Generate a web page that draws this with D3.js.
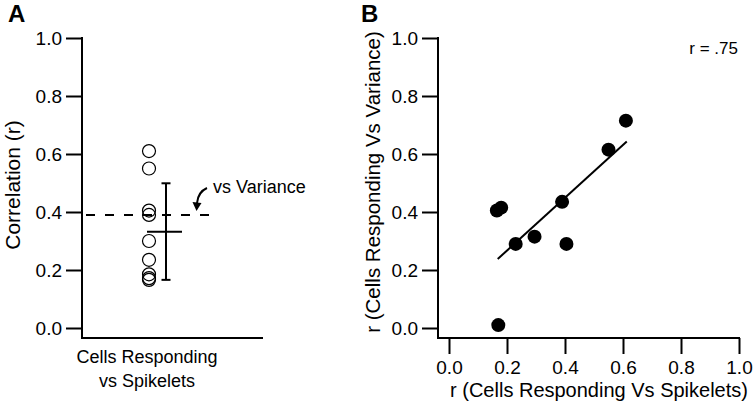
<!DOCTYPE html>
<html>
<head>
<meta charset="utf-8">
<script src="https://cdn.jsdelivr.net/npm/d3@7"></script>
<style>
  html, body { margin: 0; padding: 0; background: #fff; }
  svg { display: block; }
  text { font-family: "Liberation Sans", Arial, sans-serif; fill: #000; }
</style>
</head>
<body>
<svg id="chart" width="756" height="406"></svg>
<script>
// ---- Data ----
const tickValues = [0, 0.2, 0.4, 0.6, 0.8, 1.0];
const tickLabels = ["0.0", "0.2", "0.4", "0.6", "0.8", "1.0"];

// Panel A: correlation of cells responding vs spikelets (one per experiment)
const spikeletR = [0.61, 0.55, 0.405, 0.39, 0.30, 0.235, 0.185, 0.172, 0.166];
// Panel A summary
const meanR = [0.332];
const errLow = [0.166];
const errHigh = [0.499];
const varianceMean = [0.39];

// Panel B: scatter
const scatterX = [0.165, 0.18, 0.17, 0.23, 0.295, 0.39, 0.405, 0.55, 0.61];
const scatterY = [0.405, 0.415, 0.01, 0.29, 0.315, 0.435, 0.29, 0.615, 0.715];
const fitX = [0.168, 0.613];
const fitY = [0.238, 0.643];
const rLabel = "r = .75";

// ---- Drawing ----
const svg = d3.select("#chart");
const fmt = d => tickLabels[tickValues.indexOf(d)];
const FONT = "Liberation Sans, Arial, sans-serif";

// Panel A
const gA = svg.append("g");
const yA = d3.scaleLinear().domain([0, 1]).range([328, 38]);
const axA = gA.append("g").attr("transform", "translate(82,0)")
  .call(d3.axisLeft(yA).tickValues(tickValues).tickFormat(fmt).tickSize(16).tickPadding(4));
axA.select(".domain").remove();
axA.selectAll(".tick line").attr("stroke", "#000").attr("stroke-width", 2);
axA.selectAll(".tick text").attr("font-size", 19).attr("font-family", FONT);
gA.append("path").attr("d", "M82,37V338H263").attr("fill", "none").attr("stroke", "#000").attr("stroke-width", 2);

const xA = 149;
// dashed variance line
gA.append("line")
  .attr("x1", 86).attr("x2", 219)
  .attr("y1", yA(varianceMean[0])).attr("y2", yA(varianceMean[0]))
  .attr("stroke", "#000").attr("stroke-width", 2).attr("stroke-dasharray", "9,10");

// circles
gA.selectAll("circle.pt").data(spikeletR).join("circle")
  .attr("class", "pt")
  .attr("cx", xA).attr("cy", d => yA(d)).attr("r", 6.5)
  .attr("fill", "none").attr("stroke", "#000").attr("stroke-width", 1.2);

// error bar
const ex = 166;
gA.append("line").attr("x1", ex).attr("x2", ex).attr("y1", yA(errHigh[0])).attr("y2", yA(errLow[0]))
  .attr("stroke", "#000").attr("stroke-width", 2);
[errHigh[0], errLow[0]].forEach(v => {
  gA.append("line").attr("x1", ex - 4.5).attr("x2", ex + 4.5).attr("y1", yA(v)).attr("y2", yA(v))
    .attr("stroke", "#000").attr("stroke-width", 2);
});
gA.append("line").attr("x1", 147).attr("x2", 182).attr("y1", yA(meanR[0])).attr("y2", yA(meanR[0]))
  .attr("stroke", "#000").attr("stroke-width", 2);

// arrow + label
gA.append("path").attr("d", "M207,188 Q198,192 197,203")
  .attr("fill", "none").attr("stroke", "#000").attr("stroke-width", 2);
gA.append("path").attr("d", "M192.5,202 L201.5,203 L196.5,211 Z").attr("fill", "#000");
gA.append("text").attr("x", 213).attr("y", 193).attr("font-size", 18).text("vs Variance");

// titles
gA.append("text").attr("transform", "translate(19.5,185) rotate(-90)")
  .attr("text-anchor", "middle").attr("font-size", 21).text("Correlation (r)");
gA.append("text").attr("x", 147).attr("y", 363).attr("text-anchor", "middle").attr("font-size", 18).text("Cells Responding");
gA.append("text").attr("x", 147).attr("y", 387).attr("text-anchor", "middle").attr("font-size", 18).text("vs Spikelets");
gA.append("text").attr("x", 8).attr("y", 21.5).attr("font-size", 24).attr("font-weight", "bold").text("A");

// Panel B
const gB = svg.append("g");
const xB = d3.scaleLinear().domain([0, 1]).range([449, 739]);
const yB = d3.scaleLinear().domain([0, 1]).range([328, 38]);
const axBy = gB.append("g").attr("transform", "translate(438,0)")
  .call(d3.axisLeft(yB).tickValues(tickValues).tickFormat(fmt).tickSize(16).tickPadding(4));
const axBx = gB.append("g").attr("transform", "translate(0,338)")
  .call(d3.axisBottom(xB).tickValues(tickValues).tickFormat(fmt).tickSize(16).tickPadding(7));
[axBy, axBx].forEach(a => {
  a.select(".domain").remove();
  a.selectAll(".tick line").attr("stroke", "#000").attr("stroke-width", 2);
  a.selectAll(".tick text").attr("font-size", 19).attr("font-family", FONT);
});
gB.append("path").attr("d", "M438,37V338H740").attr("fill", "none").attr("stroke", "#000").attr("stroke-width", 2);

// fit line
gB.append("line")
  .attr("x1", xB(fitX[0])).attr("y1", yB(fitY[0]))
  .attr("x2", xB(fitX[1])).attr("y2", yB(fitY[1]))
  .attr("stroke", "#000").attr("stroke-width", 2);

// points
gB.selectAll("circle.sp").data(scatterX).join("circle")
  .attr("class", "sp")
  .attr("cx", d => xB(d)).attr("cy", (d, i) => yB(scatterY[i])).attr("r", 7)
  .attr("fill", "#000");

gB.append("text").attr("x", 738).attr("y", 54).attr("text-anchor", "end").attr("font-size", 17).text(rLabel);
gB.append("text").attr("x", 599).attr("y", 397).attr("text-anchor", "middle").attr("font-size", 20)
  .text("r (Cells Responding Vs Spikelets)");
gB.append("text").attr("transform", "translate(380,182) rotate(-90)")
  .attr("text-anchor", "middle").attr("font-size", 20.5).text("r (Cells Responding Vs Variance)");
gB.append("text").attr("x", 361).attr("y", 21.5).attr("font-size", 24).attr("font-weight", "bold").text("B");
</script>
</body>
</html>
